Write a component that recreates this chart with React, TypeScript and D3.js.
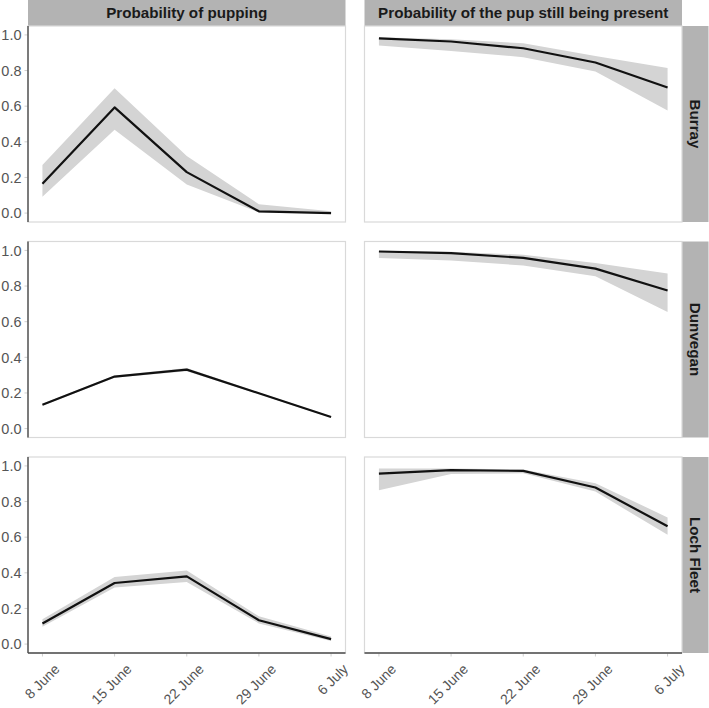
import * as d3 from "d3";

const dates = ["8 June", "15 June", "22 June", "29 June", "6 July"];
const sites = ["Burray", "Dunvegan", "Loch Fleet"];
const measures = ["Probability of pupping", "Probability of the pup still being present"];
const yTicks = [0, 0.2, 0.4, 0.6, 0.8, 1.0];

// pupping: fitted value and 95% band
const burrayPupping = [0.165, 0.593, 0.23, 0.01, 0.0];
const burrayPuppingLo = [0.092, 0.468, 0.16, 0.004, 0.0];
const burrayPuppingHi = [0.27, 0.7, 0.32, 0.05, 0.01];
const dunveganPupping = [0.134, 0.292, 0.331, 0.198, 0.065];
const dunveganPuppingLo = [0.128, 0.286, 0.322, 0.193, 0.061];
const dunveganPuppingHi = [0.14, 0.298, 0.34, 0.203, 0.069];
const lochPupping = [0.116, 0.343, 0.38, 0.134, 0.028];
const lochPuppingLo = [0.097, 0.317, 0.348, 0.116, 0.018];
const lochPuppingHi = [0.14, 0.376, 0.413, 0.156, 0.042];

// pup still present: fitted value and 95% band
const burrayPresent = [0.981, 0.963, 0.925, 0.845, 0.705];
const burrayPresentLo = [0.94, 0.91, 0.875, 0.795, 0.576];
const burrayPresentHi = [0.987, 0.975, 0.953, 0.882, 0.814];
const dunveganPresent = [0.994, 0.985, 0.958, 0.898, 0.775];
const dunveganPresentLo = [0.958, 0.944, 0.915, 0.855, 0.654];
const dunveganPresentHi = [0.998, 0.992, 0.976, 0.93, 0.87];
const lochPresent = [0.957, 0.976, 0.972, 0.879, 0.661];
const lochPresentLo = [0.864, 0.954, 0.959, 0.856, 0.613];
const lochPresentHi = [0.985, 0.985, 0.98, 0.903, 0.711];

const panels = [
  [
    { mid: burrayPupping, lo: burrayPuppingLo, hi: burrayPuppingHi },
    { mid: burrayPresent, lo: burrayPresentLo, hi: burrayPresentHi },
  ],
  [
    { mid: dunveganPupping, lo: dunveganPuppingLo, hi: dunveganPuppingHi },
    { mid: dunveganPresent, lo: dunveganPresentLo, hi: dunveganPresentHi },
  ],
  [
    { mid: lochPupping, lo: lochPuppingLo, hi: lochPuppingHi },
    { mid: lochPresent, lo: lochPresentLo, hi: lochPresentHi },
  ],
];

const width = 709;
const height = 708;
const font = "'Liberation Sans', Arial, sans-serif";
const colLeft = [28, 364.5];
const panelW = 317.5;
const panelH = 196;
const rowTop = [26, 241.5, 457];
const stripW = 26.5;
const stripH = 26;

export default function App() {
  const y = d3.scaleLinear().domain([-0.05, 1.05]).range([panelH, 0]);
  const xIdx = d3.scaleLinear().domain([-0.2, 4.2]).range([0, panelW]);

  return (
    <svg
      width={width}
      height={height}
      style={{ position: "absolute", left: 0, top: 0, background: "white", fontFamily: font }}
    >
      {/* column strips */}
      {measures.map((m, c) => (
        <g key={m} transform={`translate(${colLeft[c]},0)`}>
          <rect width={panelW} height={stripH} fill="#b3b3b3" />
          <text x={panelW / 2} y={stripH / 2} dy="0.36em" textAnchor="middle" fontSize={15.2} fontWeight="bold" fill="#1a1a1a">
            {m}
          </text>
        </g>
      ))}
      {/* row strips */}
      {sites.map((s, r) => (
        <g key={s} transform={`translate(${colLeft[1] + panelW},${rowTop[r]})`}>
          <rect width={stripW} height={panelH} fill="#b3b3b3" />
          <text
            transform={`translate(${stripW / 2},${panelH / 2}) rotate(90)`}
            dy="0.36em"
            textAnchor="middle"
            fontSize={15.2}
            fontWeight="bold"
            fill="#1a1a1a"
          >
            {s}
          </text>
        </g>
      ))}
      {panels.map((row, r) =>
        row.map((p, c) => {
          const area = d3
            .area<number>()
            .x((_, i) => xIdx(i))
            .y0((_, i) => y(p.lo[i]))
            .y1((_, i) => y(p.hi[i]));
          const line = d3
            .line<number>()
            .x((_, i) => xIdx(i))
            .y((d) => y(d));
          return (
            <g key={`${r}-${c}`} transform={`translate(${colLeft[c]},${rowTop[r]})`}>
              <rect width={panelW} height={panelH} fill="white" />
              <path d={area(p.mid) ?? ""} fill="#d4d4d4" />
              <path d={line(p.mid) ?? ""} fill="none" stroke="#111" strokeWidth={2.2} strokeLinejoin="round" />
              <rect width={panelW} height={panelH} fill="none" stroke="#d9d9d9" strokeWidth={1.2} />
              {c === 0 && (
                <g>
                  {yTicks.map((t) => (
                    <g key={t} transform={`translate(0,${y(t)})`}>
                      <line x1={-3.5} x2={0} stroke="#cfcfcf" strokeWidth={1} />
                      <text x={-6.5} dy="0.36em" textAnchor="end" fontSize={14.5} fill="#555">
                        {t.toFixed(1)}
                      </text>
                    </g>
                  ))}
                  <line x1={0} x2={0} y1={0} y2={panelH} stroke="#4d4d4d" strokeWidth={1.4} />
                </g>
              )}
              {r === 2 && (
                <g>
                  {dates.map((d, i) => (
                    <g key={d} transform={`translate(${xIdx(i)},${panelH})`}>
                      <line y1={0} y2={3.5} stroke="#cfcfcf" strokeWidth={1} />
                      <text
                        transform="translate(18,17) rotate(-45)"
                        textAnchor="end"
                        fontSize={14}
                        fill="#555"
                      >
                        {d}
                      </text>
                    </g>
                  ))}
                  <line x1={0} x2={panelW} y1={panelH} y2={panelH} stroke="#4d4d4d" strokeWidth={1.4} />
                </g>
              )}
            </g>
          );
        })
      )}
    </svg>
  );
}
